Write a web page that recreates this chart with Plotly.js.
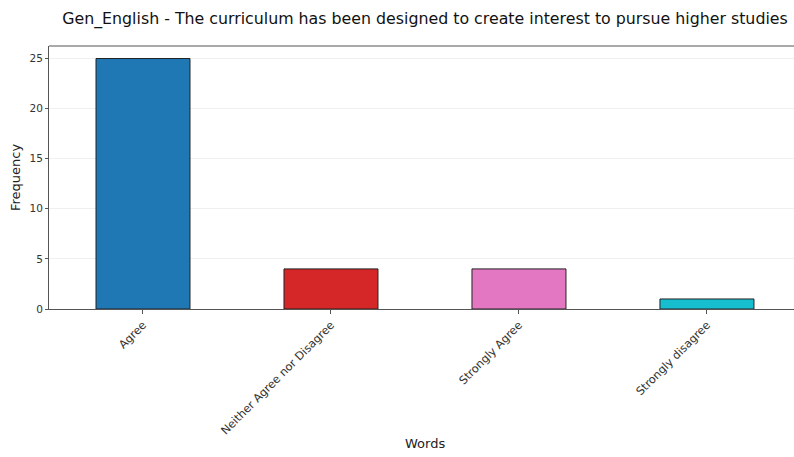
<!DOCTYPE html>
<html>
<head>
<meta charset="utf-8">
<script src="https://cdn.plot.ly/plotly-3.0.1.min.js"></script>
<style>html,body{margin:0;padding:0;background:#fff;}#chart{width:794px;height:457px;}</style>
</head>
<body>
<div id="chart"></div>
<script>
const categories = ["Agree", "Neither Agree nor Disagree", "Strongly Agree", "Strongly disagree"];
const frequencies = [25, 4, 4, 1];
const barColors = ["#1f77b4", "#d62728", "#e377c2", "#17becf"];
const titleText = "Gen_English - The curriculum has been designed to create interest to pursue higher studies";
const xTitle = "Words";

const trace = {
  type: "bar",
  x: [0, 1, 2, 3],
  y: frequencies,
  width: 0.5,
  marker: {color: barColors, line: {color: "#222", width: 1}},
  hoverinfo: "y"
};

const layout = {
  width: 794, height: 457,
  margin: {l: 49, r: 0, t: 46, b: 148},
  paper_bgcolor: "#fff", plot_bgcolor: "#fff",
  font: {family: "DejaVu Sans, sans-serif", color: "#222"},
  title: {text: titleText, font: {size: 15.8, color: "#111"}, x: 425/794, xanchor: "center", xref: "container", y: 1 - 18/457, yanchor: "middle", yref: "container"},
  xaxis: {
    range: [-0.5, 3.463],
    tickmode: "array", tickvals: [0, 1, 2, 3], ticktext: categories,
    tickangle: -45, tickfont: {size: 11.3, color: "#333"},
    ticks: "outside", ticklen: 4, tickcolor: "#555",
    showline: true, linecolor: "#555", linewidth: 1, mirror: false,
    showgrid: false, zeroline: false
  },
  yaxis: {
    range: [0, 26.25],
    tickvals: [0, 5, 10, 15, 20, 25],
    tickfont: {size: 10.5, color: "#333"},
    ticks: "outside", ticklen: 3, tickcolor: "#555",
    showline: true, linecolor: "#555", linewidth: 1,
    showgrid: true, gridcolor: "#f0f0f0", gridwidth: 1,
    zeroline: false,
    title: {text: "Frequency", font: {size: 13, color: "#222"}, standoff: 5}
  },
  annotations: [
    {text: xTitle, xref: "paper", yref: "paper", x: (425 - 49) / 745, y: -(443 - 309) / 263, xanchor: "center", yanchor: "middle", showarrow: false, font: {size: 13, color: "#222"}}
  ],
  shapes: [
    {type: "line", xref: "paper", yref: "paper", x0: 0, x1: 1, y0: 1, y1: 1, line: {color: "#555", width: 1}}
  ],
  showlegend: false
};

Plotly.newPlot("chart", [trace], layout, {displayModeBar: false, staticPlot: true});
</script>
</body>
</html>
